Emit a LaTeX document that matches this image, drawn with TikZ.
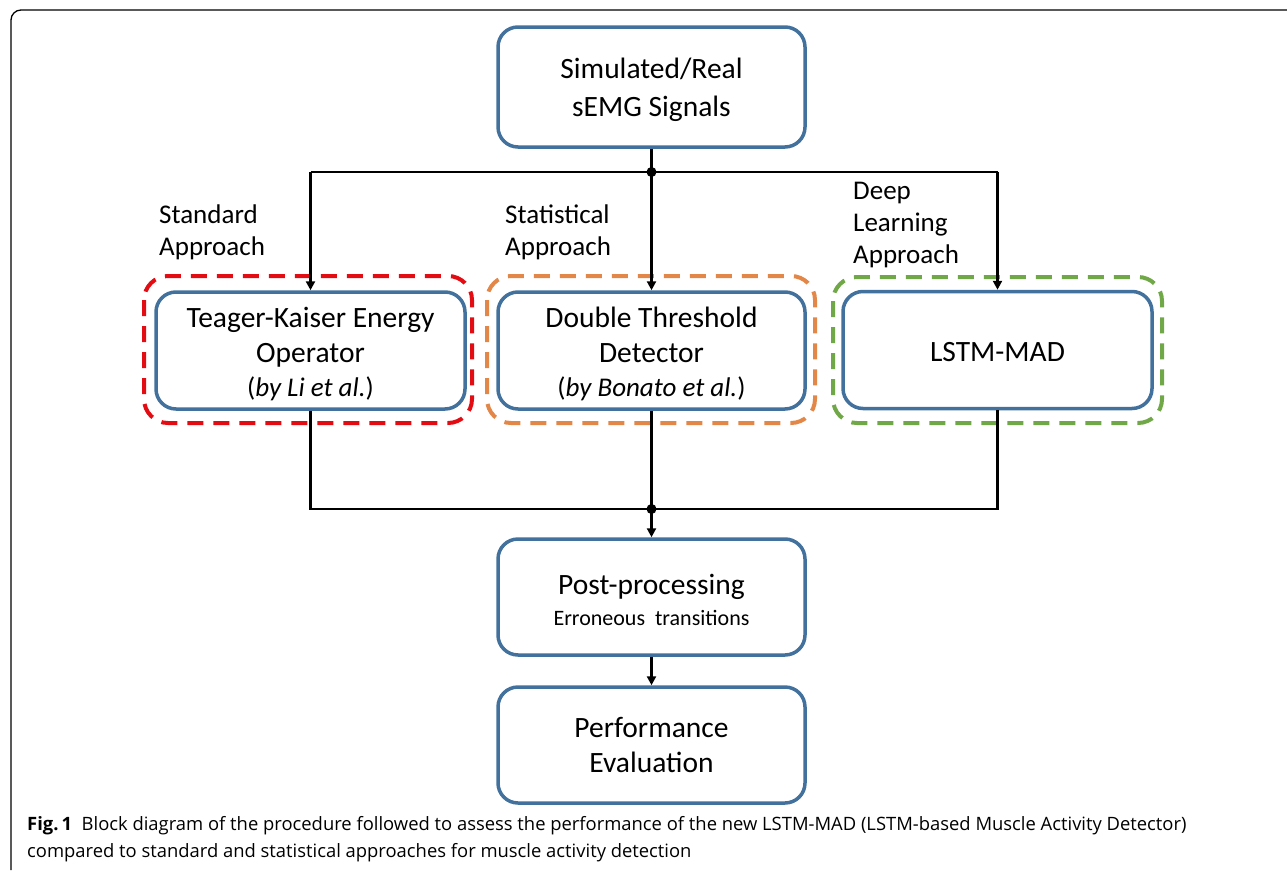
\documentclass[tikz,border=0pt]{standalone}
\usepackage{fontspec}
\setmainfont{Carlito}
\newfontfamily\capfont{Open Sans}
\usetikzlibrary{arrows.meta}
\definecolor{boxblue}{RGB}{65,113,156}
\definecolor{stdred}{RGB}{226,12,18}
\definecolor{statorange}{RGB}{226,135,72}
\definecolor{deepgreen}{RGB}{112,168,72}
\newcommand{\lowerby}[1]{\rule{0pt}{#1}}
\tikzset{
  blockbox/.style={draw=boxblue, line width=3.5pt, rounded corners=20pt, fill=white,
    minimum width=307pt, minimum height=117pt, align=center, inner sep=0pt,
    font=\fontsize{29.5}{35}\selectfont},
  groupbox/.style={line width=4pt, rounded corners=24pt, dash pattern=on 16pt off 10pt},
  flow/.style={line width=2.5pt, black},
  flowarrow/.style={flow, -{Triangle[length=9pt,width=9pt]}},
  junction/.style={circle, fill=black, inner sep=0pt, minimum size=10pt},
  approach/.style={align=left, anchor=north west, inner sep=0pt,
    font=\fontsize{27}{32}\selectfont},
  subline/.style={font=\fontsize{27}{33}\selectfont},
}
\begin{document}
\begin{tikzpicture}[x=1pt,y=-1pt]
\useasboundingbox (0,0) rectangle (1287,870);
% outer frame
\draw[line width=1.3pt, rounded corners=10pt] (11,870) -- (11,10) -- (1287,10);

% group boxes
\draw[groupbox, stdred] (144,276) rectangle (472,423);
\draw[groupbox, statorange] (487,276) rectangle (815,423);
\draw[groupbox, deepgreen] (833,277) rectangle (1162,423);

% blocks
\node[blockbox, minimum height=120pt] (src) at (651.5,87) {\lowerby{26pt}Simulated/Real\\[3pt]sEMG Signals};
\node[blockbox, minimum width=309pt] (tkeo) at (310.5,350.5) {\lowerby{28pt}Teager-Kaiser Energy\\Operator\\[-1pt]{\fontsize{27}{33}\selectfont(\textit{by Li et al.})}};
\node[blockbox] (dtd) at (651.5,350.5) {\lowerby{28pt}Double Threshold\\Detector\\[-1pt]{\fontsize{27}{33}\selectfont(\textit{by Bonato et al.})}};
\node[blockbox, minimum width=309pt] (lstm) at (997.5,350) {\lowerby{23pt}LSTM-MAD};
\node[blockbox, minimum height=116pt] (post) at (651.5,597) {\lowerby{26pt}Post-processing\\[-4pt]{\fontsize{22}{26}\selectfont Erroneous\ \ transitions}};
\node[blockbox, minimum height=116pt] (perf) at (651.5,745) {Performance\\Evaluation};

% labels
\node[approach] (lstd) at (159,205) {Standard\\Approach};
\node[approach] (lstat) at (505,205) {Statistical\\Approach};
\node[approach] (ldeep) at (853,182) {Deep\\Learning\\Approach};

% junctions
\node[junction] (jtop) at (651.5,172) {};
\node[junction] (jbot) at (651.5,509) {};

% connectors
\draw[flow] (src.south) -- (jtop.center);
\draw[flow] (tkeo.north |- jtop) -- (lstm.north |- jtop);
\draw[flowarrow] (tkeo.north |- jtop) -- (tkeo.north);
\draw[flowarrow] (jtop.center) -- (dtd.north);
\draw[flowarrow] (lstm.north |- jtop) -- (lstm.north);

\draw[flow] (tkeo.south) -- (tkeo.south |- jbot) -- (lstm.south |- jbot) -- (lstm.south);
\draw[flow] (dtd.south) -- (jbot.center);
\draw[flowarrow] (jbot.center) -- (post.north);
\draw[flowarrow] (post.south) -- (perf.north);

% caption
\node[anchor=base west, inner sep=0pt, align=left, font=\capfont\fontsize{18.4}{27}\selectfont] (cap) at (27,857)
  {\textbf{Fig.\,1}\ \ Block diagram of the procedure followed to assess the performance of the new LSTM-MAD (LSTM-based Muscle Activity Detector)\\
   compared to standard and statistical approaches for muscle activity detection};
\end{tikzpicture}
\end{document}
